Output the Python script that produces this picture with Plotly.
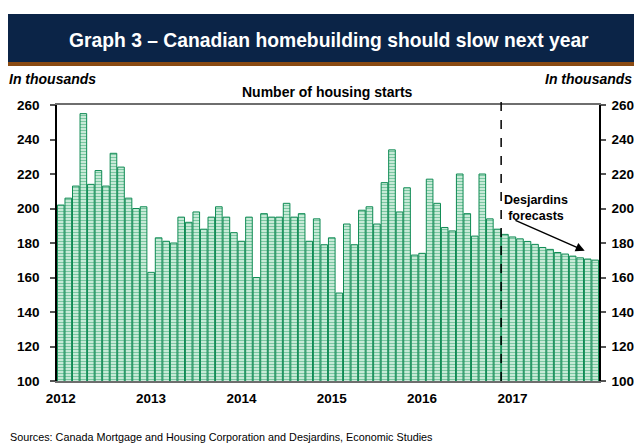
import plotly.graph_objects as go

# Monthly housing starts (thousands, SAAR), Jan 2012 - Dec 2017; from Dec 2016 on = forecast
years = ["2012", "2013", "2014", "2015", "2016", "2017"]
months = [f"{y}-{m:02d}" for y in years for m in range(1, 13)]
starts = [
    202, 206, 213, 255, 214, 222, 213, 232, 224, 206, 200, 201,   # 2012
    163, 183, 181, 180, 195, 192, 198, 188, 195, 201, 195, 186,   # 2013
    181, 195, 160, 197, 195, 195, 203, 195, 197, 181, 194, 179,   # 2014
    183, 151, 191, 179, 199, 201, 191, 215, 234, 198, 212, 173,   # 2015
    174, 217, 203, 189, 187, 220, 197, 184, 220, 194, 188, 185,   # 2016
    183.5, 182.4, 180.9, 179.2, 177.4, 176.3, 174.5, 173.6, 172.4, 171.4, 170.7, 170.1,  # 2017
]
y_ticks = [100, 120, 140, 160, 180, 200, 220, 240, 260]
forecast_start = "2016-12"

FONT = "Arial, 'Liberation Sans', sans-serif"
W, H = 634, 444
L, R, T, B = 57, 599, 105, 381  # plot-area pixel box


def px(x):
    return (x - L) / (R - L)


def py(y):
    return (B - y) / (B - T)


fig = go.Figure()
fig.add_trace(go.Bar(
    x=months, y=starts,
    marker=dict(
        color="#d6f1e1",
        line=dict(color="#0e8a53", width=1),
        pattern=dict(shape="-", fgcolor="#1f9e63", size=3, solidity=0.45),
    ),
    showlegend=False, hoverinfo="x+y",
))
# invisible trace to carry the right-hand axis
fig.add_trace(go.Scatter(x=[months[0]], y=[None], yaxis="y2", showlegend=False,
                         hoverinfo="skip", mode="markers"))

fi = months.index(forecast_start) - 0.5

shapes = [
    dict(type="rect", xref="paper", yref="paper", x0=px(8), x1=px(634), y0=py(62), y1=py(14),
         fillcolor="#0b2447", line=dict(width=0), layer="below"),
    dict(type="rect", xref="paper", yref="paper", x0=px(8), x1=px(634), y0=py(66), y1=py(62),
         fillcolor="#8a4a12", line=dict(width=0), layer="below"),
    dict(type="line", xref="x", yref="paper", x0=fi, x1=fi, y0=0, y1=py(101),
         line=dict(color="black", width=1.5, dash="dash")),
]

annotations = [
    dict(text="<b>Graph 3 – Canadian homebuilding should slow next year</b>",
         xref="paper", yref="paper", x=px(329), y=py(40), showarrow=False,
         font=dict(family=FONT, size=19.3, color="white"), xanchor="center", yanchor="middle"),
    dict(text="<b><i>In thousands</i></b>", xref="paper", yref="paper", x=px(7), y=py(79),
         showarrow=False, xanchor="left", yanchor="middle", font=dict(family=FONT, size=14, color="black")),
    dict(text="<b><i>In thousands</i></b>", xref="paper", yref="paper", x=px(634), y=py(79),
         showarrow=False, xanchor="right", yanchor="middle", font=dict(family=FONT, size=14, color="black")),
    dict(text="<b>Number of housing starts</b>", xref="paper", yref="paper", x=px(327), y=py(92),
         showarrow=False, xanchor="center", yanchor="middle", font=dict(family=FONT, size=14, color="black")),
    dict(text="Sources: Canada Mortgage and Housing Corporation and Desjardins, Economic Studies",
         xref="paper", yref="paper", x=px(8), y=py(437), showarrow=False, xanchor="left",
         yanchor="middle", font=dict(family=FONT, size=10.8, color="black")),
    dict(text="<b>Desjardins<br>forecasts</b>", xref="x", yref="y", x=63.1, y=200.5,
         showarrow=False, xanchor="center", yanchor="middle",
         font=dict(family=FONT, size=12.5, color="black")),
    dict(text="", xref="x", yref="y", x=69.6, y=175.5, axref="x", ayref="y", ax=60.2, ay=193.5,
         showarrow=True, arrowhead=2, arrowsize=1.2, arrowwidth=1.5, arrowcolor="black"),
]

fig.update_layout(
    width=W, height=H,
    margin=dict(l=L, r=W - R, t=T, b=H - B, pad=0, autoexpand=False),
    paper_bgcolor="white", plot_bgcolor="white",
    font=dict(family=FONT, size=13, color="black"),
    bargap=0.12,
    shapes=shapes, annotations=annotations,
    xaxis=dict(
        type="category", categoryorder="array", categoryarray=months,
        range=[-0.5, len(months) - 0.5], automargin=False,
        tickmode="array", tickvals=[f"{y}-01" for y in years], ticktext=[f"<b>{y}</b>" for y in years],
        ticks="", showgrid=False, showline=True, linecolor="#6e6e6e", linewidth=2, mirror=True,
        tickfont=dict(family=FONT, size=13.5), zeroline=False, ticklabelstandoff=4,
    ),
    yaxis=dict(
        range=[100, 260], tickvals=y_ticks, ticktext=[f"<b>{v}</b>" for v in y_ticks],
        ticks="outside", ticklen=5, tickcolor="#555", tickwidth=1.5, automargin=False,
        showgrid=False, showline=True, linecolor="black", linewidth=1.5, zeroline=False,
        tickfont=dict(family=FONT, size=13.5), ticklabelstandoff=8,
    ),
    yaxis2=dict(
        overlaying="y", side="right", range=[100, 260], tickvals=y_ticks,
        ticktext=[f"<b>{v}</b>" for v in y_ticks], automargin=False,
        ticks="outside", ticklen=5, tickcolor="#555", tickwidth=1.5,
        showgrid=False, showline=True, linecolor="black", linewidth=1.5, zeroline=False,
        tickfont=dict(family=FONT, size=13.5), ticklabelstandoff=3,
    ),
)

fig.write_html("out.html")
